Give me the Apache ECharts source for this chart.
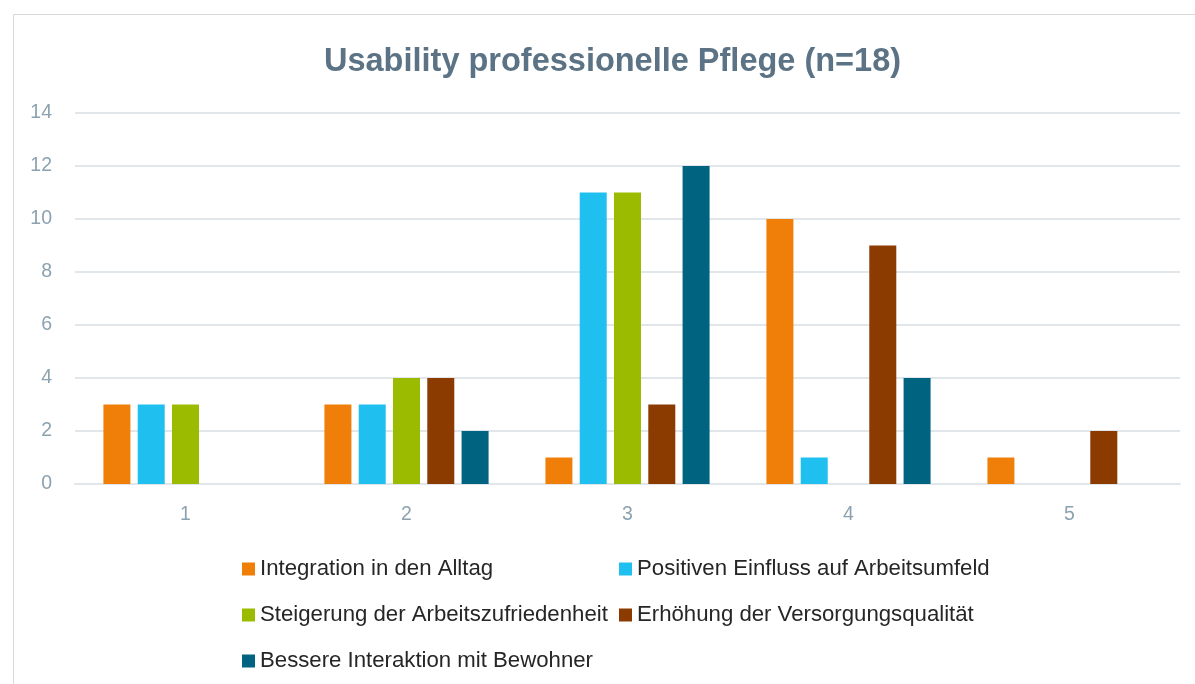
<!DOCTYPE html>
<html>
<head>
<meta charset="utf-8">
<script src="https://cdn.jsdelivr.net/npm/echarts@6/dist/echarts.min.js"></script>
<style>html,body{margin:0;padding:0;background:#fff;}#c{width:1195px;height:684px;}</style>
</head>
<body>
<div id="c"></div>
<script>
const categories = ['1', '2', '3', '4', '5'];
const seriesNames = [
  'Integration in den Alltag',
  'Positiven Einfluss auf Arbeitsumfeld',
  'Steigerung der Arbeitszufriedenheit',
  'Erhöhung der Versorgungsqualität',
  'Bessere Interaktion mit Bewohner'
];
const integration = [3, 3, 1, 10, 1];
const einfluss = [3, 3, 11, 1, 0];
const zufriedenheit = [3, 4, 11, 0, 0];
const versorgung = [0, 4, 3, 9, 2];
const interaktion = [0, 2, 12, 4, 0];
const yTicks = [0, 2, 4, 6, 8, 10, 12, 14];

const values = [integration, einfluss, zufriedenheit, versorgung, interaktion];
const colors = ['#F07F09', '#1FBFEF', '#9BBB00', '#8B3A00', '#00637F'];
const FONT = "'Liberation Sans', Arial, sans-serif";

const chart = echarts.init(document.getElementById('c'), null, {renderer: 'canvas'});
const legendText = {fontFamily: FONT, fontSize: 22.2, lineHeight: 24, color: '#262626'};
chart.setOption({
  animation: false,
  backgroundColor: '#fff',
  textStyle: {fontFamily: FONT},
  title: {
    text: 'Usability professionelle Pflege (n=18)',
    left: 319, top: 41,
    textStyle: {fontFamily: FONT, fontSize: 32.5, fontWeight: 'bold', color: '#5B7384'}
  },
  graphic: [{
    type: 'rect', shape: {x: 13.5, y: 14.5, width: 1200, height: 700},
    style: {fill: 'none', stroke: '#D9D9D9', lineWidth: 1}, silent: true, z: -1
  }],
  legend: [
    {data: [seriesNames[0], seriesNames[2], seriesNames[4]], orient: 'vertical', left: 237, top: 552,
     itemWidth: 13, itemHeight: 13, itemGap: 22, icon: 'rect', textStyle: legendText},
    {data: [seriesNames[1], seriesNames[3]], orient: 'vertical', left: 614, top: 552,
     itemWidth: 13, itemHeight: 13, itemGap: 22, icon: 'rect', textStyle: legendText}
  ],
  grid: {left: 75, right: 15, top: 113, bottom: 200, containLabel: false},
  xAxis: {
    type: 'category', data: categories,
    axisLine: {lineStyle: {color: '#E1E6EA', width: 2}},
    axisTick: {show: false},
    axisLabel: {color: '#8CA2B0', fontSize: 19.5, margin: 21, fontFamily: FONT}
  },
  yAxis: {
    type: 'value', min: yTicks[0], max: yTicks[yTicks.length - 1], interval: 2,
    axisLine: {show: false}, axisTick: {show: false},
    axisLabel: {color: '#8CA2B0', fontSize: 19.5, margin: 23, fontFamily: FONT},
    splitLine: {lineStyle: {color: '#E1E6EA', width: 2}}
  },
  series: seriesNames.map((n, i) => ({
    name: n, type: 'bar', data: values[i],
    barWidth: 27, barGap: '27%',
    itemStyle: {color: colors[i]}
  }))
});
</script>
</body>
</html>
